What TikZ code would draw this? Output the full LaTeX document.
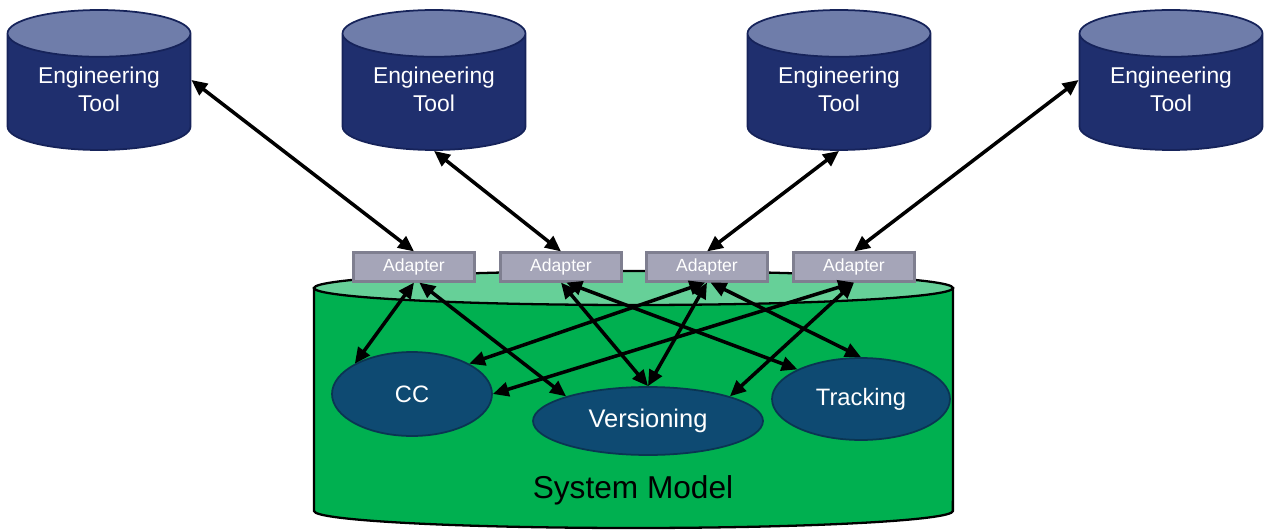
\documentclass[tikz,border=0pt]{standalone}
\usepackage{fontspec}
\setmainfont{Liberation Sans}
\usetikzlibrary{shapes.geometric,arrows.meta}

\definecolor{toolbody}{HTML}{1F2F6E}
\definecolor{tooltop}{HTML}{6F7DAA}
\definecolor{toolline}{HTML}{16235A}
\definecolor{modelbody}{HTML}{00B050}
\definecolor{modeltop}{HTML}{66D098}
\definecolor{adapterfill}{HTML}{A5A5B8}
\definecolor{adapterline}{HTML}{7F7F90}
\definecolor{servicefill}{HTML}{0E4A72}
\definecolor{serviceline}{HTML}{0A3552}

\begin{document}
\begin{tikzpicture}[
  x=0.02cm, y=-0.02cm,
  tool/.style={
    cylinder,
    shape border rotate=90,
    shape aspect=0.35,
    cylinder uses custom fill,
    cylinder body fill=toolbody,
    cylinder end fill=tooltop,
    draw=toolline,
    line width=1pt,
    minimum width=3.66cm,
    minimum height=2.8cm,
    anchor=shape center,
    text depth=8pt,
    text=white,
    align=center,
    font=\fontsize{13}{16}\selectfont
  },
  modelside/.style={
    fill=modelbody,
    draw=black,
    line width=1.3pt
  },
  modeltopend/.style={
    fill=modeltop,
    draw=black,
    line width=1.3pt
  },
  adapter/.style={
    draw=adapterline,
    fill=adapterfill,
    line width=1.2pt,
    minimum width=2.42cm,
    minimum height=0.58cm,
    inner sep=0pt,
    text=white,
    font=\fontsize{10}{12}\selectfont
  },
  service/.style={
    ellipse,
    draw=serviceline,
    fill=servicefill,
    line width=1pt,
    inner sep=0pt,
    text=white,
    font=\fontsize{13.5}{16}\selectfont
  },
  link/.style={
    {Triangle[length=9pt,width=8pt]}-{Triangle[length=9pt,width=8pt]},
    line width=2pt
  }
]
  \useasboundingbox (0,0) rectangle (1264,530);

  % system model
  \path[modelside] (314,288) -- (314,511)
    arc[start angle=180, end angle=360, x radius=6.39cm, y radius=0.34cm]
    -- (953,288) -- cycle;
  \path[modeltopend] (633.5,288) ellipse [x radius=6.39cm, y radius=0.34cm];
  \node[font=\fontsize{18}{20}\selectfont] (title) at (633,490) {System Model};

  % tools
  \node[tool] (t1) at (99,80)   {Engineering\\Tool};
  \node[tool] (t2) at (434,80)  {Engineering\\Tool};
  \node[tool] (t3) at (839,80)  {Engineering\\Tool};
  \node[tool] (t4) at (1171,80) {Engineering\\Tool};

  % adapters
  \node[adapter] (ad1) at (414,267) {Adapter};
  \node[adapter] (ad2) at (561,267) {Adapter};
  \node[adapter] (ad3) at (707,267) {Adapter};
  \node[adapter] (ad4) at (854,267) {Adapter};

  % services
  \node[service, minimum width=3.2cm,  minimum height=1.68cm] (cc)   at (412,394) {CC};
  \node[service, minimum width=4.6cm,  minimum height=1.36cm,
        font=\fontsize{14.5}{16}\selectfont] (vers) at (648,421) {Versioning};
  \node[service, minimum width=3.56cm, minimum height=1.64cm] (trk)  at (861,399) {Tracking};

  \draw[link] (t1.10)  -- (ad1.north);
  \draw[link] (t2.south) -- (ad2.north);
  \draw[link] (t3.south) -- (ad3.north);
  \draw[link] (t4.170)  -- (ad4.north);

  \draw[link] (ad1.south) -- (cc.north west);
  \draw[link] ([xshift=3pt]ad1.south) -- (vers.north west);
  \draw[link] (ad2.south) -- (vers.north);
  \draw[link] ([xshift=3pt]ad2.south) -- (trk.north west);
  \draw[link] ([xshift=-1pt]ad3.south) -- (cc.north east);
  \draw[link] (ad3.south) -- (vers.north);
  \draw[link] ([xshift=2pt]ad3.south) -- (trk.north);
  \draw[link] (ad4.south) -- (cc.east);
  \draw[link] (ad4.south) -- (vers.north east);
\end{tikzpicture}
\end{document}
